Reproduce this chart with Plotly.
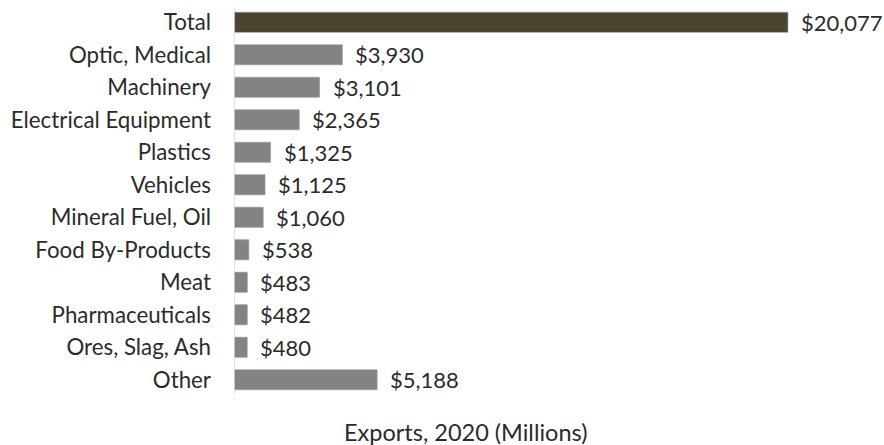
import plotly.graph_objects as go

categories = ["Total", "Optic, Medical", "Machinery", "Electrical Equipment", "Plastics",
              "Vehicles", "Mineral Fuel, Oil", "Food By-Products", "Meat",
              "Pharmaceuticals", "Ores, Slag, Ash", "Other"]
values = [20077, 3930, 3101, 2365, 1325, 1125, 1060, 538, 483, 482, 480, 5188]
labels = ["$20,077", "$3,930", "$3,101", "$2,365", "$1,325", "$1,125", "$1,060",
          "$538", "$483", "$482", "$480", "$5,188"]
colors = ["#4a4430"] + ["#838383"] * (len(categories) - 1)

W, H = 884, 445
ml, mr, mt, mb = 234, 43, 6, 49
FONT = "Lato"
TXT = "#2b2b2b"

fig = go.Figure()
fig.add_trace(go.Bar(
    y=categories, x=values, orientation="h",
    marker=dict(color=colors, line=dict(color="#9a9a9a", width=0.6)),
    hoverinfo="skip",
))
for c, v, t in zip(categories, values, labels):
    fig.add_annotation(x=v, y=c, text=t, showarrow=False, xanchor="left",
                       xshift=11, font=dict(family=FONT, size=22, color=TXT))

fig.add_annotation(xref="paper", yref="paper",
                   x=(465 - ml) / (W - ml - mr), y=-(432 - (H - mb)) / (H - mt - mb),
                   text="Exports, 2020 (Millions)", showarrow=False,
                   xanchor="center", yanchor="middle",
                   font=dict(family=FONT, size=23.5, color=TXT))

fig.update_layout(
    width=W, height=H, margin=dict(l=ml, r=mr, t=mt, b=mb),
    paper_bgcolor="white", plot_bgcolor="white",
    bargap=0.38, showlegend=False,
    font=dict(family=FONT, size=22, color=TXT),
    xaxis=dict(range=[0, 22000], visible=False, fixedrange=True),
    yaxis=dict(autorange="reversed", showgrid=False, zeroline=False,
               showline=False, ticks="", ticklabelstandoff=22, fixedrange=True,
               tickfont=dict(family=FONT, size=22.3, color=TXT)),
    shapes=[dict(type="line", xref="x", yref="paper", x0=0, x1=0, y0=0.005, y1=0.995,
                 line=dict(color="#d9d9d9", width=1.5))],
)
fig.write_html("out.html", config={"displayModeBar": False, "staticPlot": True},
               post_script="document.body.style.margin='0';document.body.style.overflow='hidden';")
